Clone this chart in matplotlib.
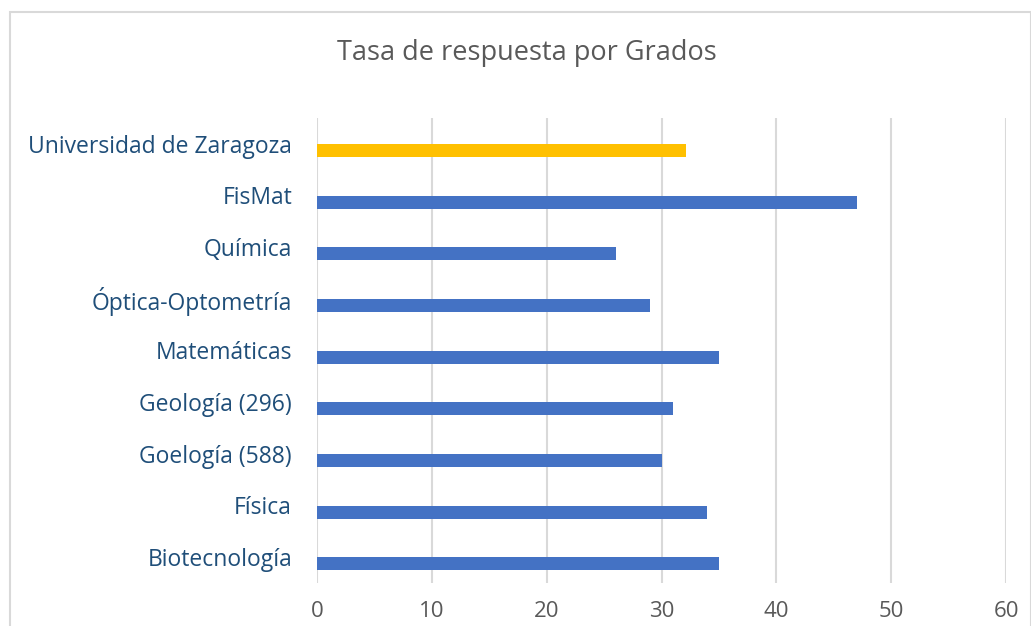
import matplotlib.pyplot as plt
from matplotlib.patches import Rectangle

# datos (de abajo hacia arriba)
grados = ["Biotecnología", "Física", "Goelogía (588)", "Geología (296)",
          "Matemáticas", "Óptica-Optometría", "Química", "FisMat",
          "Universidad de Zaragoza"]
tasas = [35, 34, 30, 31, 35, 29, 26, 47, 32.1]
colores = ["#4472C4"] * 8 + ["#FFC000"]
xticks = [0, 10, 20, 30, 40, 50, 60]

plt.rcParams["font.family"] = ["Open Sans", "DejaVu Sans"]

fig = plt.figure(figsize=(10.31, 6.26), dpi=100)
ax = fig.add_axes([0.3075, 0.0687, 0.6683, 0.7428])

pos = [i - 0.13 for i in range(len(grados))]
ax.barh(pos, tasas, height=0.25, color=colores, zorder=3)

ax.set_xlim(0, 60)
ax.set_ylim(-0.5, len(grados) - 0.5)
ax.set_xticks(xticks)
ax.set_yticks(range(len(grados)))
ax.set_yticklabels(grados, fontsize=16.5, color="#1F4E79")
ax.tick_params(axis="x", labelsize=16, labelcolor="#595959", length=0, pad=13)
ax.tick_params(axis="y", length=0, pad=18)
ax.grid(axis="x", color="#D9D9D9", linewidth=1.5, zorder=0)
for s in ax.spines.values():
    s.set_visible(False)

fig.text(0.511, 0.915, "Tasa de respuesta por Grados", ha="center", va="center",
         fontsize=19.5, color="#595959")

# marco del gráfico
fig.patches.append(Rectangle((0.0097, -0.05), 0.99, 1.031, transform=fig.transFigure,
                             fill=False, edgecolor="#D9D9D9", linewidth=1.5))

fig.savefig("out.png", dpi=100)
